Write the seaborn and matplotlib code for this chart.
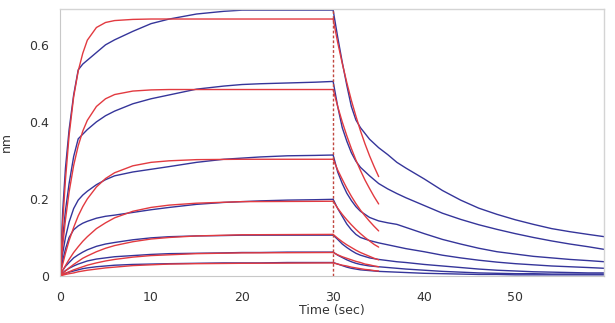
import numpy as np
import pandas as pd
import matplotlib
matplotlib.use("Agg")
import matplotlib.pyplot as plt
from matplotlib.ticker import MultipleLocator, FixedLocator
import seaborn as sns

# ---------------- data ----------------
t_assoc_meas = [0, 0.3, 0.6, 1, 1.5, 2, 2.5, 3, 4, 5, 6, 8, 10, 12, 15, 18, 20, 22, 25, 28, 30]
assoc_meas = [
    [0, 0.17, 0.28, 0.38, 0.47, 0.535, 0.55, 0.56, 0.58, 0.60, 0.613, 0.635, 0.655, 0.667, 0.68, 0.687, 0.69, 0.69, 0.69, 0.69, 0.69],
    [0, 0.10, 0.17, 0.24, 0.31, 0.356, 0.368, 0.38, 0.40, 0.416, 0.428, 0.447, 0.46, 0.47, 0.485, 0.493, 0.497, 0.499, 0.501, 0.503, 0.505],
    [0, 0.06, 0.10, 0.14, 0.175, 0.197, 0.21, 0.22, 0.237, 0.25, 0.26, 0.27, 0.277, 0.284, 0.295, 0.303, 0.306, 0.309, 0.312, 0.313, 0.314],
    [0, 0.04, 0.07, 0.10, 0.12, 0.13, 0.137, 0.142, 0.15, 0.155, 0.158, 0.165, 0.172, 0.178, 0.186, 0.191, 0.193, 0.195, 0.197, 0.198, 0.199],
    [0, 0.015, 0.025, 0.035, 0.047, 0.055, 0.062, 0.068, 0.077, 0.083, 0.087, 0.094, 0.099, 0.102, 0.104, 0.105, 0.106, 0.106, 0.106, 0.106, 0.106],
    [0, 0.008, 0.014, 0.02, 0.026, 0.031, 0.035, 0.039, 0.044, 0.047, 0.05, 0.053, 0.056, 0.058, 0.059, 0.06, 0.061, 0.061, 0.062, 0.062, 0.062],
    [0, 0.004, 0.007, 0.01, 0.013, 0.016, 0.019, 0.021, 0.024, 0.026, 0.028, 0.03, 0.031, 0.032, 0.033, 0.034, 0.034, 0.034, 0.035, 0.035, 0.035],
]

t_dissoc_meas = [30, 30.5, 31, 31.5, 32, 32.5, 33, 34, 35, 36, 37, 38, 40, 42, 44, 46, 48, 50, 52, 54, 56, 58, 59.8]
dissoc_meas = [
    [0.69, 0.62, 0.555, 0.495, 0.44, 0.405, 0.385, 0.355, 0.333, 0.315, 0.295, 0.28, 0.252, 0.222, 0.197, 0.176, 0.16, 0.146, 0.134, 0.123, 0.115, 0.108, 0.102],
    [0.505, 0.44, 0.385, 0.35, 0.32, 0.298, 0.282, 0.26, 0.24, 0.226, 0.214, 0.203, 0.183, 0.163, 0.147, 0.133, 0.121, 0.11, 0.10, 0.091, 0.083, 0.076, 0.069],
    [0.314, 0.27, 0.24, 0.215, 0.196, 0.18, 0.168, 0.152, 0.143, 0.138, 0.134, 0.126, 0.11, 0.095, 0.083, 0.072, 0.063, 0.057, 0.051, 0.047, 0.043, 0.04, 0.037],
    [0.199, 0.175, 0.155, 0.135, 0.12, 0.108, 0.10, 0.092, 0.086, 0.081, 0.076, 0.071, 0.063, 0.054, 0.047, 0.041, 0.036, 0.032, 0.029, 0.026, 0.024, 0.022, 0.02],
    [0.106, 0.095, 0.083, 0.074, 0.066, 0.059, 0.054, 0.047, 0.043, 0.04, 0.037, 0.035, 0.03, 0.026, 0.022, 0.018, 0.015, 0.013, 0.011, 0.01, 0.009, 0.008, 0.008],
    [0.062, 0.054, 0.048, 0.042, 0.037, 0.033, 0.03, 0.026, 0.024, 0.022, 0.02, 0.018, 0.015, 0.012, 0.01, 0.008, 0.007, 0.006, 0.006, 0.005, 0.005, 0.005, 0.005],
    [0.035, 0.031, 0.027, 0.023, 0.02, 0.018, 0.016, 0.014, 0.012, 0.011, 0.01, 0.009, 0.007, 0.006, 0.005, 0.004, 0.004, 0.003, 0.003, 0.003, 0.003, 0.003, 0.003],
]

t_assoc_fit = [0, 0.3, 0.6, 1, 1.5, 2, 2.5, 3, 4, 5, 6, 8, 10, 12, 15, 20, 30]
assoc_fit = [
    [0, 0.14, 0.25, 0.365, 0.465, 0.532, 0.578, 0.612, 0.645, 0.658, 0.663, 0.666, 0.667, 0.667, 0.667, 0.667, 0.667],
    [0, 0.08, 0.146, 0.218, 0.287, 0.338, 0.376, 0.404, 0.44, 0.46, 0.471, 0.48, 0.483, 0.484, 0.484, 0.484, 0.484],
    [0, 0.031, 0.059, 0.092, 0.126, 0.156, 0.18, 0.20, 0.231, 0.253, 0.268, 0.286, 0.295, 0.299, 0.302, 0.303, 0.303],
    [0, 0.014, 0.027, 0.043, 0.061, 0.076, 0.09, 0.102, 0.123, 0.138, 0.151, 0.168, 0.178, 0.184, 0.189, 0.193, 0.194],
    [0, 0.007, 0.013, 0.021, 0.03, 0.038, 0.046, 0.052, 0.063, 0.072, 0.079, 0.089, 0.096, 0.10, 0.104, 0.107, 0.108],
    [0, 0.004, 0.007, 0.011, 0.016, 0.02, 0.024, 0.028, 0.034, 0.039, 0.043, 0.049, 0.053, 0.055, 0.058, 0.06, 0.061],
    [0, 0.002, 0.004, 0.006, 0.008, 0.011, 0.013, 0.015, 0.018, 0.021, 0.023, 0.027, 0.029, 0.031, 0.032, 0.033, 0.034],
]

t_dissoc_fit = [30, 30.5, 31, 31.5, 32, 32.5, 33, 33.5, 34, 34.5, 35]
dissoc_fit = [
    [0.667, 0.606, 0.552, 0.502, 0.456, 0.415, 0.377, 0.343, 0.312, 0.284, 0.258],
    [0.484, 0.44, 0.40, 0.364, 0.331, 0.301, 0.274, 0.249, 0.227, 0.206, 0.187],
    [0.303, 0.275, 0.251, 0.228, 0.207, 0.188, 0.171, 0.156, 0.142, 0.129, 0.117],
    [0.194, 0.176, 0.16, 0.146, 0.133, 0.121, 0.11, 0.10, 0.091, 0.082, 0.075],
    [0.108, 0.098, 0.089, 0.081, 0.074, 0.067, 0.061, 0.056, 0.051, 0.046, 0.042],
    [0.061, 0.055, 0.05, 0.046, 0.042, 0.038, 0.035, 0.031, 0.029, 0.026, 0.024],
    [0.034, 0.031, 0.028, 0.026, 0.023, 0.021, 0.019, 0.017, 0.016, 0.014, 0.013],
]

step_time = 30  # association -> dissociation
x_ticks = [0, 10, 20, 30, 40, 50]
y_ticks = [0, 0.2, 0.4, 0.6]
y_tick_labels = ["0", "0.2", "0.4", "0.6"]

# ---------------- build long table ----------------
rows = []
def add(times, series, kind, phase):
    for i, vals in enumerate(series):
        for t, v in zip(times, vals):
            rows.append(dict(time=t, response=v, kind=kind, trace=f"{kind}-{phase}-{i}"))

add(t_assoc_meas, assoc_meas, "measured", "assoc")
add(t_dissoc_meas, dissoc_meas, "measured", "dissoc")
add(t_assoc_fit, assoc_fit, "fit", "assoc")
add(t_dissoc_fit, dissoc_fit, "fit", "dissoc")
df = pd.DataFrame(rows)

# ---------------- plot ----------------
sns.set_style("white")
plt.rcParams["font.family"] = ["DejaVu Sans"]

fig = plt.figure(figsize=(6.15, 3.23), dpi=100)
ax = fig.add_axes([60 / 615, 1 - 276 / 323, 544 / 615, 267 / 323])

blue = "#35359a"
red = "#e23a40"

sns.lineplot(data=df[df.kind == "measured"], x="time", y="response", units="trace",
             estimator=None, sort=False, color=blue, linewidth=1.0, ax=ax, legend=False)
sns.lineplot(data=df[df.kind == "fit"], x="time", y="response", units="trace",
             estimator=None, sort=False, color=red, linewidth=1.0, ax=ax, legend=False)

ax.axvline(step_time, color="#c0463f", lw=1.0, ls=(0, (2, 1.5)), zorder=3)

ax.set_xlim(0, 59.75)
ax.set_ylim(0, 0.693)

ax.set_xticks(x_ticks)
ax.xaxis.set_minor_locator(MultipleLocator(2))
ax.yaxis.set_major_locator(FixedLocator(y_ticks))
ax.set_yticklabels(y_tick_labels)
ax.yaxis.set_minor_locator(MultipleLocator(0.05))

ax.tick_params(axis="y", which="both", direction="in", length=6, width=1, color="#555555",
               labelsize=9, labelcolor="#333333", pad=8)
ax.tick_params(axis="x", which="both", direction="out", length=5, width=0.8, color="#aaaaaa",
               labelsize=9, labelcolor="#333333", pad=6)

for side in ["top", "right"]:
    ax.spines[side].set_color("#d4d4d4")
    ax.spines[side].set_linewidth(1.0)
ax.spines["left"].set_color("#c8c8c8")
ax.spines["bottom"].set_color("#c8c8c8")
for s in ax.spines.values():
    s.set_visible(True)

ax.set_xlabel("Time (sec)", fontsize=9, color="#333333", labelpad=0)
ax.set_ylabel("nm", fontsize=9, color="#333333")
ax.yaxis.set_label_coords(-0.086, 0.5)

fig.savefig("out.png", dpi=100)
